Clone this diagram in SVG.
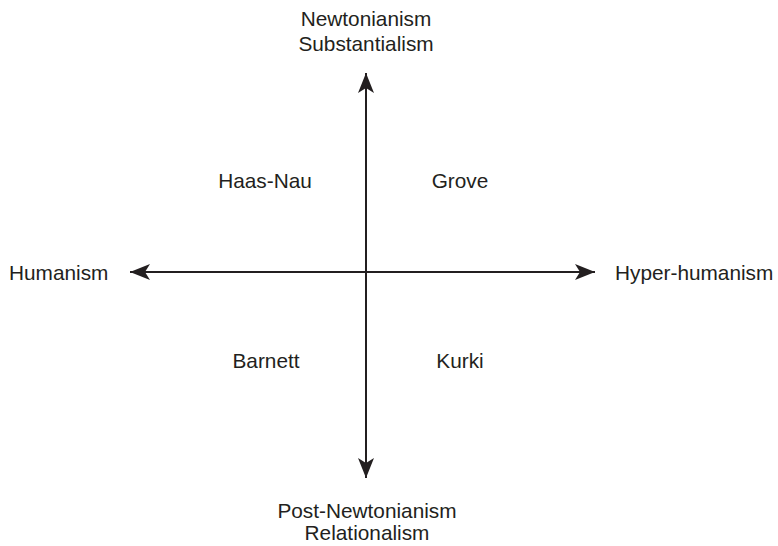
<svg xmlns="http://www.w3.org/2000/svg" width="778" height="546" viewBox="0 0 778 546">
<defs>
<marker id="ah" viewBox="0 0 20 16" refX="20" refY="8" markerWidth="20" markerHeight="16" markerUnits="userSpaceOnUse" orient="auto">
<path d="M0,0 L20,8 L0,16 L5,8 Z" fill="#231f20"/>
</marker>
</defs>
<style>
text{font-family:"Liberation Sans",Arial,sans-serif;font-size:20.8px;fill:#231f20}
.c{text-anchor:middle}
.ax{stroke:#231f20;stroke-width:2;fill:none}
</style>
<rect width="778" height="546" fill="#fff"/>
<g id="connectors">
<line class="ax" x1="366" y1="272" x2="366" y2="73" marker-end="url(#ah)"/>
<line class="ax" x1="366" y1="272" x2="366" y2="478" marker-end="url(#ah)"/>
<line class="ax" x1="366" y1="272" x2="130" y2="272" marker-end="url(#ah)"/>
<line class="ax" x1="366" y1="272" x2="595" y2="272" marker-end="url(#ah)"/>
</g>
<g id="top"><text class="c" x="366" y="26">Newtonianism</text><text class="c" x="366" y="51">Substantialism</text></g>
<g id="bottom"><text class="c" x="367" y="518">Post-Newtonianism</text><text class="c" x="367" y="540">Relationalism</text></g>
<g id="left"><text x="9" y="280">Humanism</text></g>
<g id="right"><text x="615" y="280">Hyper-humanism</text></g>
<g id="haasnau"><text class="c" x="265" y="188">Haas-Nau</text></g>
<g id="grove"><text class="c" x="460" y="188">Grove</text></g>
<g id="barnett"><text class="c" x="266" y="368">Barnett</text></g>
<g id="kurki"><text class="c" x="460" y="368">Kurki</text></g>
</svg>
